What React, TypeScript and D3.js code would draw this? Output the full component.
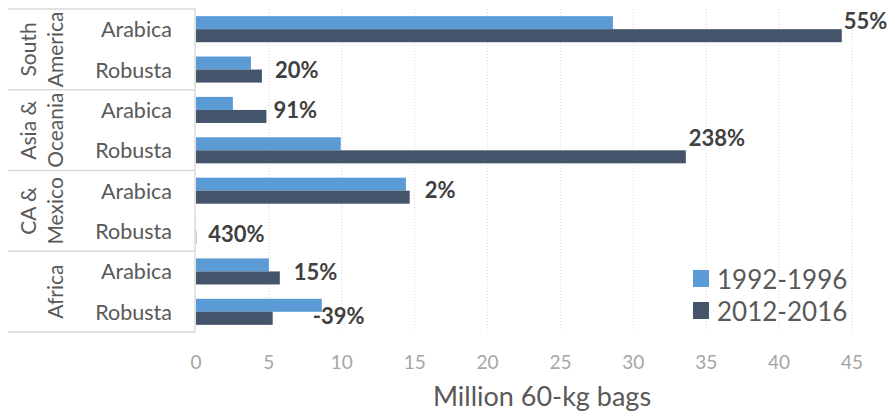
import React from "react";
import * as d3 from "d3";

// Coffee production by region and type, million 60-kg bags
const regions = ["South America", "Asia & Oceania", "CA & Mexico", "Africa"];
const regionLines = [["South", "America"], ["Asia &", "Oceania"], ["CA &", "Mexico"], ["", "Africa"]];
const types = ["Arabica", "Robusta"];
const seriesNames = ["1992-1996", "2012-2016"];
const values1992 = [28.6, 3.77, 2.53, 9.93, 14.4, 0.004, 5.0, 8.63];
const values2012 = [44.3, 4.52, 4.83, 33.6, 14.66, 0.0212, 5.75, 5.26];
const changeLabels = ["55%", "20%", "91%", "238%", "2%", "430%", "15%", "-39%"];
const xTicks = [0, 5, 10, 15, 20, 25, 30, 35, 40, 45];

const colors = ["#5B9BD5", "#44546A"];
const FONT = "Lato, 'Open Sans', sans-serif";

// label nudges (px) for change labels relative to the longer bar end
const labelNudge: [number, number][] = [
  [2, -9], [13, 0], [7, 0], [3, -13], [15, -1], [12, 2], [14, 0], [-9, 4],
];

export default function App() {
  const W = 895, H = 416;
  const left = 196, right = 852, top = 9, bottom = 332;
  const tableLeft = 8;

  const rows = regions.flatMap((r) => types.map((t) => `${r}|${t}`));
  const x = d3.scaleLinear().domain([0, 45]).range([left, right]);
  const y = d3.scaleBand<string>().domain(rows).range([top, bottom]).paddingInner(0);
  const ys = d3.scaleBand<string>().domain(seriesNames).range([0, y.bandwidth()]).paddingOuter(0.55).paddingInner(0);
  const regionBand = d3.scaleBand<string>().domain(regions).range([top, bottom]);

  const series = [values1992, values2012];

  return (
    <div style={{ position: "absolute", left: 0, top: 0 }}>
      <svg width={W} height={H} style={{ display: "block", fontFamily: FONT }}>
        <rect width={W} height={H} fill="#fff" />
        {/* gridlines */}
        {xTicks.filter((t) => t > 0).map((t) => (
          <line key={t} x1={x(t)} x2={x(t)} y1={top} y2={bottom} stroke="#D9D9D9" strokeWidth={1} strokeDasharray="1,2" />
        ))}
        {/* category table lines */}
        {regions.map((r) => (
          <line key={r} x1={tableLeft} x2={left - 1} y1={regionBand(r)!} y2={regionBand(r)!} stroke="#D9D9D9" strokeWidth={1.5} />
        ))}
        <line x1={tableLeft} x2={left - 1} y1={bottom} y2={bottom} stroke="#D9D9D9" strokeWidth={1.5} />
        <line x1={left - 1} x2={left - 1} y1={top} y2={bottom} stroke="#D9D9D9" strokeWidth={1.5} />

        {/* bars */}
        {series.map((vals, si) =>
          vals.map((v, i) => (
            <rect
              key={`${si}-${i}`}
              x={x(0)}
              y={y(rows[i])! + ys(seriesNames[si])!}
              width={x(v) - x(0)}
              height={ys.bandwidth()}
              fill={colors[si]}
            />
          ))
        )}

        {/* sub-category labels */}
        {rows.map((r) => (
          <text key={r} x={172} y={y(r)! + y.bandwidth() / 2} textAnchor="end" dominantBaseline="central" fontSize={21.5} fill="#595959">
            {r.split("|")[1]}
          </text>
        ))}

        {/* region labels */}
        {regions.map((r, ri) => {
          const cy = regionBand(r)! + regionBand.bandwidth() / 2;
          return regionLines[ri].map((ln, li) => (
            <text key={`${r}-${li}`} transform={`translate(${li === 0 ? 27 : 54},${cy}) rotate(-90)`} textAnchor="middle" dominantBaseline="central" fontSize={21} fill="#595959">
              {ln}
            </text>
          ));
        })}

        {/* change labels */}
        {rows.map((r, i) => {
          const end = x(Math.max(values1992[i], values2012[i]));
          const [dx, dy] = labelNudge[i];
          return (
            <text key={`l-${r}`} x={end + dx} y={y(r)! + y.bandwidth() / 2 + dy} dominantBaseline="central" fontSize={22} fontWeight={700} fill="#404040">
              {changeLabels[i]}
            </text>
          );
        })}

        {/* x tick labels */}
        {xTicks.map((t) => (
          <text key={`t${t}`} x={x(t)} y={369} textAnchor="middle" fontSize={19} fill="#A6A6A6">
            {t}
          </text>
        ))}
        <text x={542} y={406} textAnchor="middle" fontSize={27} fill="#595959">
          Million 60-kg bags
        </text>

        {/* legend */}
        {seriesNames.map((s, i) => (
          <g key={s} transform={`translate(693,${270 + i * 32})`}>
            <rect width={16} height={17} fill={colors[i]} />
            <text x={24} y={9} dominantBaseline="central" fontSize={26} fill="#595959">
              {s}
            </text>
          </g>
        ))}
      </svg>
    </div>
  );
}
